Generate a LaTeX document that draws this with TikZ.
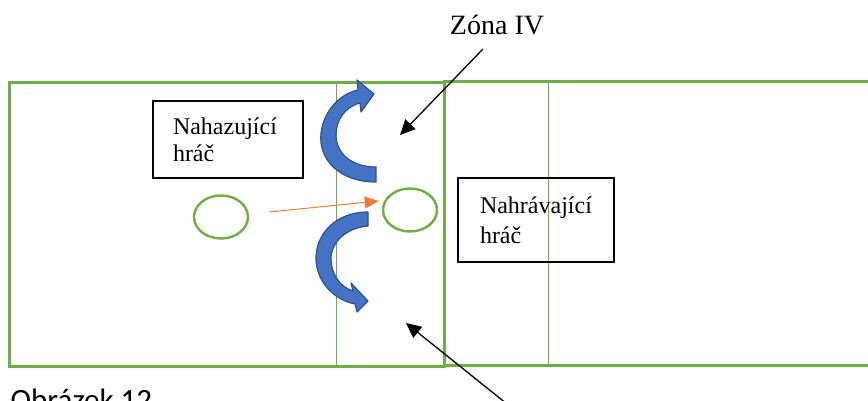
\documentclass[tikz,border=0pt]{standalone}
\usepackage{fontspec}
\setmainfont{Liberation Serif}
\newfontfamily\capfont{Carlito}
\usetikzlibrary{arrows.meta,shapes.geometric}
\definecolor{fieldgreen}{HTML}{70AD47}
\definecolor{ballorange}{HTML}{ED7D31}
\definecolor{turnblue}{HTML}{4472C4}
\definecolor{turnedge}{HTML}{2F528F}

\begin{document}
\begin{tikzpicture}[x=1pt, y=-1pt,
    F/.style = {draw=fieldgreen, line width=#1},% court lines
    F/.default = 3pt,
    P/.style = {rectangle, draw, line width=1.4pt,% boxes with the players
                font=\fontsize{24}{27}\selectfont,
                align=left, inner ysep=0pt, minimum height=77pt},
    E/.style = {ellipse, draw=fieldgreen, line width=2.4pt,
                minimum width=54pt, minimum height=43pt},
    A/.style = {draw, line width=1.3pt,
                -{Triangle[length=15pt, width=14pt]}},
    T/.style = {fill=turnblue, draw=turnedge, line width=1.2pt,
                line join=round},% curved blue arrows
                        ]
\useasboundingbox (0,0) rectangle (868,401);
% court
\draw[F] (9,82.5) rectangle (444,366.5);
\draw[F=2.8pt] (870,81.5) -- (444,81.5) -- (444,365.5) -- (870,365.5);
\draw[F=1.5pt] (336.5,82.5) -- (336.5,366.5);
\draw[F=1.5pt] (548.5,81.5) -- (548.5,365.5);
% players
\node[E] (O1) at (221,217) {};
\node[E] (O2) at (410,210) {};
\node[P, text width=110pt, inner xsep=20pt] (N1) at (228,139.5) {Nahazující\\hráč};
\node[P, text width=112pt, inner xsep=22pt, minimum height=84pt,
      font=\fontsize{24}{30}\selectfont] (N2) at (536,220) {Nahrávající\\hráč};
\node[font=\fontsize{28}{34}\selectfont, anchor=base] (Z) at (497,35) {Zóna IV};
\node[font=\capfont\fontsize{31}{37}\selectfont, anchor=base west,
      inner sep=0pt] (C) at (10.5,410) {Obrázek 12};
% throw
\draw[draw=ballorange, line width=1pt, -{Triangle[length=14pt, width=12pt]}]
    ([shift={(20,-5)}]O1.east) -- ([shift={(-3,-9)}]O2.west);
% pointers to the zone
\coordinate (Zs) at ([shift={(-14,10)}]Z.south);
\coordinate (Zt) at (400,135);
\draw[A] (Zs) -- (Zt);
\coordinate (Bs) at (512,408);
\coordinate (Bt) at (406,323);
\draw[A] (Bs) -- (Bt);
% turns
\filldraw[T] (376,182) .. controls (340,182) and (318,160) .. (321,133)
    .. controls (324,110) and (340,94) .. (358,90) -- (357,80) -- (374,94)
    -- (361,112) -- (360,103)
    .. controls (345,107) and (336,120) .. (336,135)
    .. controls (336,152) and (350,167) .. (376,167) -- cycle;
\filldraw[T] (368,212) .. controls (335,212) and (315,235) .. (316,260)
    .. controls (317,282) and (334,300) .. (355,304) -- (357,312) -- (368,301)
    -- (351,283) -- (353,291)
    .. controls (340,287) and (331,274) .. (331,259)
    .. controls (331,242) and (346,228) .. (368,226) -- cycle;
    \end{tikzpicture}
\end{document}
